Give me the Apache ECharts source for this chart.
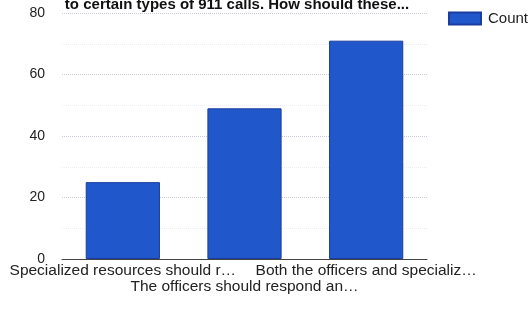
<!DOCTYPE html>
<html><head><meta charset="utf-8">
<script src="https://cdn.jsdelivr.net/npm/echarts@6/dist/echarts.min.js"></script>
<style>html,body{margin:0;padding:0;background:#fff}#c{width:532px;height:309px}</style>
</head><body><div id="c"></div>
<script>
var categories = ["Specialized resources should r…", "The officers should respond an…", "Both the officers and specializ…"];
var counts = [25, 49, 71];
var yTicks = [0, 20, 40, 60, 80];
var seriesName = "Count";
var titleText = "to certain types of 911 calls. How should these...";

var chart = echarts.init(document.getElementById('c'));
chart.setOption({
  animation: false,
  title: {
    text: titleText, left: 232, textAlign: 'center', top: -8,
    textStyle: {fontFamily: 'Liberation Sans, Arial', fontWeight: 'bold', fontSize: 15, color: '#111'}
  },
  legend: {
    data: [{name: seriesName, icon: 'rect'}], right: 4, top: 11, padding: 0, itemWidth: 32, itemHeight: 12, itemGap: 4,
    textStyle: {fontFamily: 'Liberation Sans, Arial', fontSize: 15, color: '#222', padding: [0, 0, 0, 2]}
  },
  grid: {left: 62, right: 105, top: 13, bottom: 50, containLabel: false},
  xAxis: {
    type: 'category', data: categories,
    axisLine: {lineStyle: {color: '#444', width: 1}},
    axisTick: {show: false},
    axisLabel: {
      interval: 0, margin: 4, fontFamily: 'Liberation Sans, Arial', fontSize: 15.5, color: '#222',
      lineHeight: 16,
      formatter: function (v, i) { return i % 2 === 1 ? '\n' + v : v; }
    }
  },
  yAxis: {
    type: 'value', min: yTicks[0], max: yTicks[yTicks.length - 1], interval: 20,
    axisLine: {show: false}, axisTick: {show: false},
    axisLabel: {margin: 17, fontFamily: 'Liberation Sans, Arial', fontSize: 14, color: '#222'},
    splitLine: {lineStyle: {color: '#c8ccd8', type: 'dotted', width: 1}},
    minorTick: {show: false, splitNumber: 2},
    minorSplitLine: {show: true, lineStyle: {color: '#eceef2', type: 'dotted'}}
  },
  series: [{
    name: seriesName, type: 'bar', data: counts, barWidth: '61%',
    itemStyle: {color: '#2058cc', borderColor: '#1a3c9c', borderWidth: 1}
  }]
});
</script></body></html>
